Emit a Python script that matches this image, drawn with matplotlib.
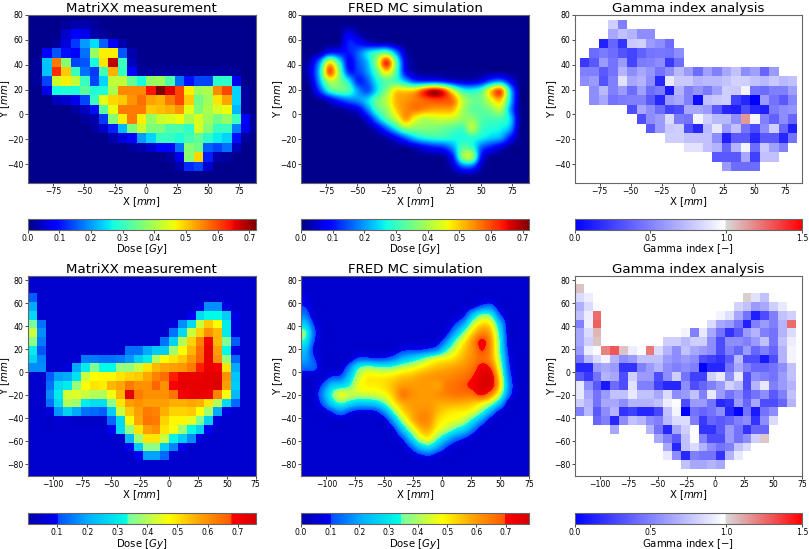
import numpy as np
import matplotlib
matplotlib.use("Agg")
import matplotlib.pyplot as plt
from matplotlib.colors import LinearSegmentedColormap

Z = [.01]    # dark background, top row of dose maps
B = [.05]    # background, bottom row of dose maps
N = [np.nan]  # no gamma value

# rows run from the top of the map down, columns from left to right
meas_top = [
    Z*25,
    Z*4 + [.02, .03, .03, .02] + Z*17,
    Z*4 + [.05, .09, .07, .03, .02, .01] + Z*15,
    Z*3 + [.02, .06, .13, .2, .25, .16, .08, .03] + Z*14,
    Z*2 + [.08, .15, .1, .09, .17, .38, .47, .47, .15, .03] + Z*13,
    Z + [.02, .23, .56, .37, .14, .15, .27, .48, .68, .3, .04] + Z*13,
    Z + [.02, .23, .62, .5, .3, .17, .13, .31, .52, .3, .08] + [.02]*11 + Z*2,
    Z + [.02, .14, .43, .47, .42, .3, .14, .24, .42, .42, .34, .27, .38, .39, .32, .17, .1, .14, .14, .29, .29, .07, .01] + Z,
    Z*2 + [.07, .27, .28, .28, .33, .28, .28, .4, .55, .55, .55, .64, .72, .66, .6, .47, .39, .4, .55, .6, .24, .02] + Z,
    Z*2 + [.01, .04, .05, .07, .14, .3, .45, .49, .5, .54, .57, .53, .52, .56, .6, .5, .35, .39, .48, .53, .24, .02] + Z,
    Z*5 + [.02, .04, .1, .33, .46, .56, .56, .56, .5, .51, .52, .54, .45, .36, .4, .44, .46, .22, .02] + Z,
    Z*6 + [.02, .03, .13, .37, .47, .56, .47, .38, .43, .44, .46, .4, .44, .39, .35, .38, .3, .08, .02],
    Z*7 + [.02, .05, .11, .22, .36, .43, .36, .36, .32, .32, .29, .44, .37, .3, .3, .18, .07, .02],
    Z*9 + [.03, .06, .09, .2, .24, .3, .3, .28, .31, .34, .29, .26, .24, .1, .02] + Z,
    Z*11 + [.02, .03, .05, .08, .09, .17, .37, .35, .16, .14, .17, .04] + Z*2,
    Z*15 + [.02, .07, .37, .49, .11, .03, .02] + Z*3,
    Z*16 + [.03, .12, .14, .05] + Z*5,
    Z*25,
    Z*25,
]

fred_top = [
    Z*25,
    Z*25,
    Z*5 + [.08, .03] + Z*18,
    Z*5 + [.12, .1, .05, .03, .03] + Z*15,
    Z*2 + [.02, .1, .1, .1, .16, .26, .32, .36, .2, .03] + Z*13,
    Z + [.04, .2, .5, .3, .07, .15, .22, .4, .68, .35, .06] + Z*13,
    Z + [.06, .25, .64, .38, .1, .13, .2, .33, .5, .33, .07, .02] + Z*12,
    Z + [.03, .22, .42, .37, .27, .1, .15, .27, .32, .3, .22, .12, .1, .1, .08, .05, .04, .04, .07, .15, .18, .08] + Z*2,
    Z*2 + [.14, .3, .35, .33, .2, .13, .25, .37, .5, .5, .52, .64, .72, .65, .45, .3, .28, .33, .52, .64, .25, .01] + Z,
    Z*2 + [.01, .05, .12, .17, .2, .25, .35, .42, .52, .54, .56, .58, .6, .6, .58, .42, .35, .35, .45, .52, .25] + Z*2,
    Z*4 + [.01, .03, .06, .18, .32, .38, .5, .55, .57, .55, .53, .53, .52, .4, .33, .33, .36, .42, .2] + Z*2,
    Z*6 + [.01, .06, .2, .33, .42, .55, .45, .4, .42, .43, .42, .38, .38, .32, .31, .31, .26, .02] + Z,
    Z*8 + [.05, .15, .27, .38, .37, .37, .36, .34, .32, .3, .43, .3, .28, .27, .22] + Z*2,
    Z*9 + [.02, .07, .15, .24, .28, .3, .3, .28, .27, .28, .27, .24, .22, .1] + Z*2,
    Z*12 + [.03, .07, .1, .12, .2, .33, .3, .15, .1, .05] + Z*3,
    Z*15 + [.01, .1, .4, .43, .08] + Z*5,
    Z*16 + [.04, .16, .16, .03] + Z*5,
    Z*25,
    Z*25,
]

gamma_top = [
    N*25,
    N*4 + [.8, .5] + N*19,
    N*4 + [.65, .75, .7, .55, .55] + N*16,
    N*3 + [.13, .4, .2, .78, .8, .6, .55, .42] + N*14,
    N*2 + [.42, .48, .42, .32, .27, .38, .45, .47, .45, .55] + N*13,
    N + [.22, .35, .6, .45, .6, .27, .48, .5, .55, .22, .42] + N*13,
    N + [.5, .5, .35, .45, .7, .55, .65, .58, .45, .55, .72, .6, .42, .62, .5, .65, .75, .55, .62, .4, .6] + N*3,
    N + [.55, .6, .32, .5, .88, .65, .7, .55, .15, .9, .78, .78, .7, .72, .72, .76, .82, .8, .75, .72, .78, .72, .75] + N,
    N*2 + [.55, .72, .5, .6, .42, .62, .42, .48, .1, .7, .5, .58, .48, .62, .8, .78, .95, .45, .42, .5, .5, .62] + N,
    N*2 + [.55, .65, .45, .48, .5, .5, .35, .15, .6, .65, .5, .05, .75, .78, .8, .25, .15, .0, .6, .45, .35, .52] + N,
    N*6 + [.3, .65, .55, .42, .25, .3, .65, .65, .6, .35, .15, .12, .3, .15, .12, .48, .55, .58] + N,
    N*7 + [.3, .55, .6, .85, .48, .45, .95, .8, .72, .72, .55, 1.15, .95, .5, .38, .55, .4] + N,
    N*8 + [.35, .6, .78, .8, .3, .15, .72, .9, .6, .75, .45, .3, .55, .8, .4, .12] + N,
    N*10 + [.8, .8, .75, .75, .75, .55, .12, .35, .35, .15, .35, .35, .15, .45] + N,
    N*12 + [.88, .88, .75, .7, .4, .7, .95, .42, .78, .62, .5] + N*2,
    N*15 + [.35, .35, .35, .65, .25, .75, .75] + N*3,
    N*16 + [.6, .42, .42, .42] + N*5,
    N*25,
    N*25,
]

meas_bot = [
    B*26,
    B*26,
    [.12] + B*25,
    [.2, .05] + B*17 + [.08, .17, .17, .08] + B*3,
    [.27, .05] + B*16 + [.1, .27, .33, .33, .25, .08] + B*2,
    [.34, .14] + B*14 + [.07, .17, .27, .42, .53, .47, .3, .07] + B*2,
    [.42, .17] + B*14 + [.14, .27, .42, .52, .6, .55, .3, .07] + B*2,
    [.36, .15] + B*13 + [.14, .26, .4, .52, .62, .7, .55, .35, .12] + B*2,
    [.3, .11] + B*9 + [.14, .14, .2, .25, .25, .38, .47, .55, .65, .72, .58, .33, .08] + B*2,
    [.26, .16] + B*3 + [.06, .15, .15, .14, .14, .15, .18, .25, .3, .4, .47, .5, .53, .59, .66, .72, .6, .37, .13] + B*2,
    [.17, .17] + B*2 + [.07, .2, .3, .35, .33, .33, .37, .37, .42, .5, .55, .57, .58, .59, .63, .68, .72, .7, .5, .2] + B*2,
    B*2 + [.12, .19, .2, .29, .42, .47, .48, .48, .5, .52, .53, .57, .62, .65, .68, .72, .72, .72, .74, .74, .6, .24] + B*2,
    B*2 + [.14, .27, .3, .37, .47, .5, .49, .55, .57, .63, .6, .6, .66, .6, .69, .73, .73, .73, .73, .75, .58, .25] + B*2,
    B*2 + [.17, .3, .43, .44, .42, .4, .4, .46, .55, .74, .63, .6, .6, .6, .64, .7, .72, .72, .71, .62, .47, .22] + B*2,
    B*2 + [.14, .27, .4, .38, .3, .28, .28, .36, .5, .58, .6, .58, .58, .58, .56, .56, .57, .56, .5, .4, .27, .13] + B*2,
    B*2 + [.07, .18, .26, .2, .14, .13, .12, .25, .42, .53, .58, .63, .62, .56, .52, .52, .53, .47, .38, .2, .07] + B*3,
    B*2 + [.04, .06, .05, .04, .04, .04, .04, .13, .27, .47, .57, .64, .63, .52, .48, .48, .45, .35, .26, .07] + B*4,
    B*9 + [.1, .27, .37, .5, .58, .6, .5, .46, .38, .33, .26, .1] + B*5,
    B*11 + [.22, .38, .5, .5, .42, .32, .25, .17, .07] + B*6,
    B*11 + [.1, .25, .36, .36, .25, .16, .09] + B*8,
    B*12 + [.1, .19, .19, .13, .06] + B*9,
    B*26,
    B*26,
]

fred_bot = [
    B*26,
    B*26,
    [.08] + B*25,
    [.1, .05] + B*17 + [.06, .12, .14, .05] + B*3,
    [.15, .05] + B*16 + [.08, .25, .38, .35, .12, .05] + B*2,
    [.25, .09] + B*15 + [.1, .2, .42, .53, .5, .25, .05] + B*2,
    [.38, .12] + B*14 + [.07, .2, .38, .54, .63, .58, .32, .05] + B*2,
    [.32, .1] + B*13 + [.06, .17, .36, .5, .62, .74, .62, .35, .06] + B*2,
    [.23, .07] + B*8 + [.05, .09, .1, .1, .12, .17, .33, .46, .55, .62, .71, .62, .36, .08] + B*2,
    [.2, .11] + B*3 + [.05, .12, .12, .1, .11, .15, .23, .28, .34, .42, .48, .5, .53, .58, .63, .67, .62, .4, .1] + B*2,
    [.14, .13] + B*2 + [.05, .16, .34, .4, .38, .36, .38, .43, .46, .5, .54, .56, .58, .6, .62, .66, .74, .7, .45, .12] + B*2,
    B*2 + [.05, .1, .11, .25, .42, .5, .5, .5, .52, .55, .56, .59, .6, .62, .62, .64, .66, .7, .76, .78, .52, .15] + B*2,
    B*2 + [.12, .25, .27, .33, .47, .5, .5, .52, .56, .6, .6, .6, .6, .58, .65, .66, .69, .72, .77, .78, .55, .18] + B*2,
    B*2 + [.18, .35, .48, .44, .43, .44, .45, .48, .55, .66, .62, .6, .6, .62, .64, .66, .66, .67, .74, .64, .45, .15] + B*2,
    B*2 + [.13, .28, .36, .3, .26, .26, .28, .36, .5, .58, .6, .6, .6, .58, .58, .58, .57, .55, .5, .42, .25, .05] + B*2,
    B*2 + [.05, .1, .16, .1, .07, .07, .08, .18, .36, .52, .58, .62, .62, .56, .52, .5, .5, .46, .36, .2, .06] + B*3,
    B*9 + [.05, .2, .4, .55, .63, .62, .52, .48, .47, .42, .3, .17, .05] + B*4,
    B*10 + [.07, .25, .42, .56, .58, .48, .42, .33, .27, .15, .05] + B*5,
    B*11 + [.1, .27, .45, .5, .36, .24, .15, .1, .05] + B*6,
    B*11 + [.05, .12, .25, .3, .2, .1, .05] + B*8,
    B*12 + [.05, .08, .1, .06] + B*10,
    B*26,
    B*26,
]

gamma_bot = [
    N*26,
    [1.05] + N*25,
    [.85, .92] + N*17 + [1.02, .88, .75, .98] + N*3,
    [.68, .85, .98] + N*15 + [.82, .75, .6, .65, .8, .9] + N*2,
    [.75, .92, 1.25] + N*13 + [.95, .87, .65, .45, .12, .3, .5, .75, .8] + N,
    [.5, .93, 1.28] + N*12 + [.85, .65, .6, .45, .13, .5, .6, .5, .7, 1.25] + N,
    [.65, .85, 1.08] + N*9 + [.95, .5, .9, .65, .45, .2, .35, .6, .7, .5, .45, .7, .85] + N,
    [.65, .8, 1.05] + N*7 + [.8, .8, .72, .8, .8, .55, .3, .55, .55, .5, .6, .75, .45, .75, .92] + N,
    [.6, .92, .98, 1.2, 1.3, 1.05, .92, .98, 1.22, .85, .7, .55, .75, .65, .6, .55, .3, .5, .4, .6, .4, .5, .4, .7, .95] + N,
    [.45, .72, .85, .95, .7, .55, .6, .75, .75, .75, .6, .55, .6, .55, .3, .25, .2, .35, .72, .3, .3, .1, .3, .7, .95] + N,
    [.15, .15, .6, .65, .6, .2, .2, .5, .6, .7, .55, .5, .55, .5, .0, .15, .15, .45, .65, .5, .4, .4, .45, .55, .75] + N,
    [.35, .22, .45, .7, .65, .3, .8, .6, .6, .3, .55, .8, .45, .25, .25, .8, .9, .55, .9, .3, .55, .5, .45, .6, .75] + N,
    [.9, .55, .35, .1, .42, .3, .88, .5, .5, .25, .15, .15, .55, .3, .4, .5, .6, .82, .72, .3, .7, .9, .5, .6, .7] + N,
    [.9, .65, .45, .6, .75, .75, .9, .75, .75, .65, .85, .55, .6, .75, .5, .9, .6, .45, .55, .35, .45, .55, .35, .5, .75] + N,
    [.8, .7, .45, .65, .65, .55, .7, .7, .7, .75, .92, .98, .3, .6, .6, .45, .15, .2, .6, .4, .65, .3, .3, .4, .7] + N,
    [.5, .72, .35, .55, .7, .2, .25, .15, .15, .28, .75, .95, .0, .45, .4, .45, .55, .15, .02, .45, .1, .45, .55] + N*3,
    N*2 + [.4, .5, .15, .55, .75, .7, .55, .5, .72, .85, .85, .5, .22, .4, .35, .4, .5, .55, .2, .55, .85] + N*3,
    N*4 + [.65] + N*3 + [.7, .45, .15, .65, .8, .98, .2, .2, .35, .6, .45, .2, .4, .4] + N*4,
    N*9 + [.65, .5, .35, .75, .98, .5, .3, .3, .6, .45, .55, .8, 1.04] + N*4,
    N*10 + [.65, .15, .75, .85, .7, .55, .45, .5, .75, .85] + N*6,
    N*10 + [.9, .55, .15, .5, .45, .45, .2, .7, .9] + N*7,
    N*12 + [.75, .65, .65, .7, .65] + N*9,
    N*26,
]

titles = ["MatriXX measurement", "FRED MC simulation", "Gamma index analysis"]
dose_ticks_top = [0.0, 0.1, 0.2, 0.3, 0.4, 0.5, 0.6, 0.7]
dose_ticks_meas_bot = [0.1, 0.2, 0.3, 0.4, 0.5, 0.6, 0.7]
gamma_ticks = [0.0, 0.5, 1.0, 1.5]

PITCH = 7.62   # detector spacing [mm]
W, H = 809, 549

# bottom row dose colours: flat blue low end, cyan/green step, flat red top end
clinical_cmap = LinearSegmentedColormap.from_list("clinical", [
    (0.0, (0, 0, .68)), (.13, (0, 0, .95)), (.132, (0, .3, 1)),
    (.27, (0, .7, 1)), (.437, (0, 1, .9)), (.44, (.45, 1, .65)),
    (.62, (1, 1, 0)), (.75, (1, .65, 0)), (.893, (1, .35, 0)),
    (.895, (1, 0, 0)), (1.0, (.85, 0, 0))], N=512)

gamma_cmap = LinearSegmentedColormap.from_list("gamma", [
    (0.0, (0, 0, 1)), (.66, (1, 1, 1)), (.667, (.85, .85, .85)), (1.0, (1, 0, 0))], N=512)


def px_axes(fig, x0, y0, x1, y1):
    """axes from pixel box, y measured from the top of the picture"""
    return fig.add_axes([x0 / W, 1 - y1 / H, (x1 - x0) / W, (y1 - y0) / H])


def style(ax):
    ax.tick_params(labelsize=5.6, length=2, width=.5, pad=1)
    for s in ax.spines.values():
        s.set_linewidth(.8)
        s.set_color("#666666")


def panel(fig, col, box, cbox, data, cmap, vmin, vmax, interp, k0, k1, m0, m1, xlim, ylim,
          xticks, yticks, cticks, clabel, title):
    ax = px_axes(fig, col[0], box[0], col[1], box[1])
    im = ax.imshow(np.array(data), extent=(k0 * PITCH, k1 * PITCH, m0 * PITCH, m1 * PITCH),
                   cmap=cmap, vmin=vmin, vmax=vmax, aspect="auto", interpolation=interp)
    ax.set_xlim(*xlim); ax.set_ylim(*ylim)
    ax.set_xticks(xticks); ax.set_yticks(yticks)
    ax.set_xlabel("X [$mm$]", fontsize=7.3, labelpad=-0.5)
    ax.set_ylabel("Y [$mm$]", fontsize=7.3)
    ax.yaxis.set_label_coords(-16 / 228, .5)
    ax.set_title(title, fontsize=9.6, pad=2.5)
    style(ax)
    cax = px_axes(fig, col[0], cbox[0], col[1], cbox[1])
    cb = fig.colorbar(im, cax=cax, orientation="horizontal")
    cb.set_ticks(cticks)
    cb.set_label(clabel, fontsize=7.3, labelpad=-0.5)
    style(cax)
    cb.outline.set_linewidth(.8); cb.outline.set_edgecolor("#666666")
    return ax


fig = plt.figure(figsize=(W / 100, H / 100), dpi=100)
cols = [(27.7, 255.7), (301, 529), (574.5, 802)]

top = dict(box=(15, 183), cbox=(219, 230), k0=-13, k1=12, m0=-8, m1=11,
           xlim=(-95.3, 88.3), ylim=(-55.3, 80),
           xticks=[-75, -50, -25, 0, 25, 50, 75], yticks=[-40, -20, 0, 20, 40, 60, 80])
bot = dict(box=(276, 476), cbox=(512.7, 524.3), k0=-16, k1=10, m0=-12, m1=11,
           xlim=(-122, 75), ylim=(-90, 83.5),
           xticks=[-100, -75, -50, -25, 0, 25, 50, 75], yticks=[-80, -60, -40, -20, 0, 20, 40, 60, 80])

panel(fig, cols[0], data=meas_top, cmap="jet", vmin=0, vmax=.72, interp="nearest",
      cticks=dose_ticks_top, clabel="Dose [$Gy$]", title=titles[0], **top)
panel(fig, cols[1], data=fred_top, cmap="jet", vmin=0, vmax=.72, interp="mitchell",
      cticks=dose_ticks_top, clabel="Dose [$Gy$]", title=titles[1], **top)
panel(fig, cols[2], data=gamma_top, cmap=gamma_cmap, vmin=0, vmax=1.5, interp="nearest",
      cticks=gamma_ticks, clabel="Gamma index [$-$]", title=titles[2], **top)
panel(fig, cols[0], data=meas_bot, cmap=clinical_cmap, vmin=.002, vmax=.76, interp="nearest",
      cticks=dose_ticks_meas_bot, clabel="Dose [$Gy$]", title=titles[0], **bot)
panel(fig, cols[1], data=fred_bot, cmap=clinical_cmap, vmin=0, vmax=.78, interp="mitchell",
      cticks=dose_ticks_top, clabel="Dose [$Gy$]", title=titles[1], **bot)
panel(fig, cols[2], data=gamma_bot, cmap=gamma_cmap, vmin=0, vmax=1.5, interp="nearest",
      cticks=gamma_ticks, clabel="Gamma index [$-$]", title=titles[2], **bot)

fig.savefig("out.png", dpi=100)
